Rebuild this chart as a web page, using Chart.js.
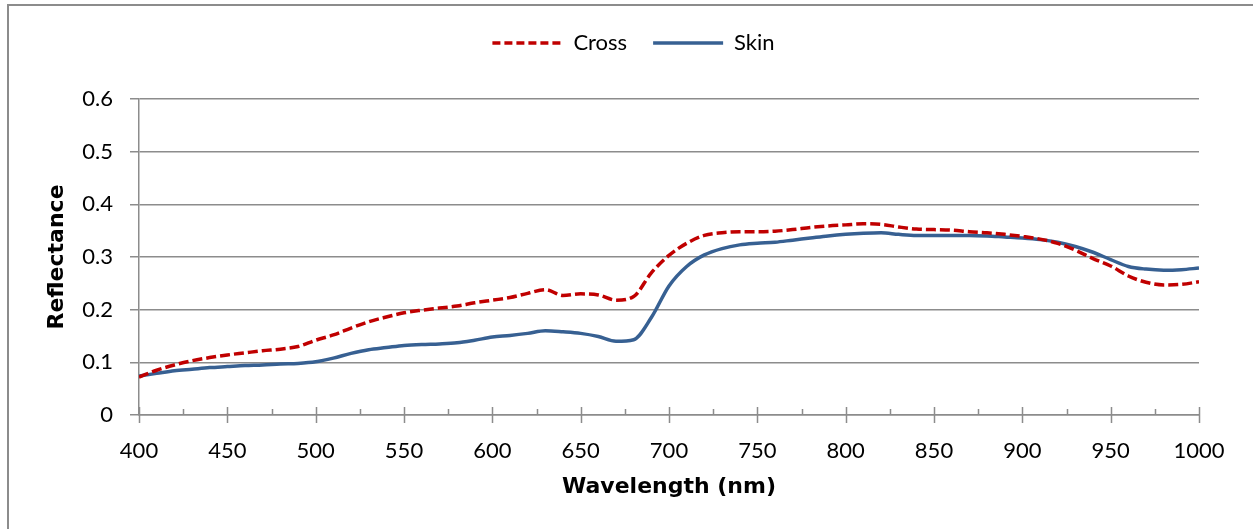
<!DOCTYPE html>
<html>
<head>
<meta charset="utf-8">
<script src="https://cdn.jsdelivr.net/npm/chart.js@4.4.1/dist/chart.umd.min.js"></script>
<style>
  body { margin: 0; background: #fff; overflow: hidden; }
  #wrap { position: relative; width: 1253px; height: 529px; }
  #frame { position: absolute; left: 7px; top: 4px; right: -10px; bottom: -10px;
           border-left: 2px solid #8c8c8c; border-top: 2px solid #8c8c8c; }
  canvas { position: absolute; left: 0; top: 0; }
</style>
</head>
<body>
<div id="wrap">
  <div id="frame"></div>
  <canvas id="chart" width="1253" height="529"></canvas>
</div>
<script>
// wavelengths (nm), every 10 nm
const wavelengths = [400, 410, 420, 430, 440, 450, 460, 470, 480, 490,
  500, 510, 520, 530, 540, 550, 560, 570, 580, 590,
  600, 610, 620, 630, 640, 650, 660, 670, 680, 690,
  700, 710, 720, 730, 740, 750, 760, 770, 780, 790,
  800, 810, 820, 830, 840, 850, 860, 870, 880, 890,
  900, 910, 920, 930, 940, 950, 960, 970, 980, 990, 1000];

const cross = [0.072, 0.085, 0.095, 0.103, 0.109, 0.114, 0.118, 0.122, 0.125, 0.130,
  0.142, 0.152, 0.165, 0.177, 0.186, 0.194, 0.199, 0.203, 0.207, 0.213,
  0.218, 0.223, 0.231, 0.238, 0.227, 0.230, 0.228, 0.218, 0.225, 0.270,
  0.303, 0.326, 0.341, 0.346, 0.348, 0.348, 0.349, 0.352, 0.356, 0.359,
  0.361, 0.363, 0.362, 0.357, 0.353, 0.352, 0.351, 0.348, 0.346, 0.343,
  0.339, 0.334, 0.326, 0.313, 0.297, 0.283, 0.264, 0.252, 0.247, 0.248, 0.253];

const skin = [0.074, 0.079, 0.084, 0.087, 0.090, 0.092, 0.094, 0.095, 0.097, 0.098,
  0.101, 0.108, 0.117, 0.124, 0.128, 0.132, 0.134, 0.135, 0.137, 0.142,
  0.148, 0.151, 0.155, 0.160, 0.158, 0.155, 0.149, 0.140, 0.143, 0.185,
  0.245, 0.282, 0.304, 0.316, 0.323, 0.326, 0.328, 0.332, 0.336, 0.340,
  0.343, 0.345, 0.346, 0.343, 0.341, 0.341, 0.341, 0.341, 0.340, 0.338,
  0.336, 0.333, 0.328, 0.320, 0.309, 0.295, 0.282, 0.277, 0.275, 0.276, 0.279];

const seriesNames = ["Cross", "Skin"];
const xRange = [400, 1000];
const yRange = [0, 0.6];

const axisGray = '#8c8c8c';
const tickFont = { family: 'Lato', size: 22 };
const titleFont = { family: 'DejaVu Sans', size: 22, weight: 'bold', lineHeight: 1.2 };

function pts(ys) {
  return wavelengths.map((w, i) => ({ x: w, y: ys[i] }));
}

// excel-style ticks on the x axis: majors cross, minors inside
const xTickMarks = {
  id: 'xTickMarks',
  afterDraw(chart) {
    const ctx = chart.ctx, xs = chart.scales.x;
    const y0 = chart.scales.y.getPixelForValue(0);
    ctx.save();
    ctx.strokeStyle = axisGray;
    ctx.lineWidth = 1.5;
    ctx.beginPath();
    for (let v = xRange[0]; v <= xRange[1]; v += 25) {
      const px = Math.round(xs.getPixelForValue(v)) + 0.5;
      if (v % 50 === 0) {
        ctx.moveTo(px, y0 - 8); ctx.lineTo(px, y0 + 8);
      } else {
        ctx.moveTo(px, y0 - 6); ctx.lineTo(px, y0);
      }
    }
    ctx.stroke();
    ctx.restore();
  }
};

// legend sizing / position tweaks
const legendTweak = {
  id: 'legendTweak',
  beforeInit(chart) {
    const fit = chart.legend.fit;
    chart.legend.fit = function () {
      fit.call(this);
      this.height = 93;
    };
  },
  afterLayout(chart) {
    chart.legend.left += 34;
    chart.legend.right += 34;
  }
};

let ctx = document.getElementById('chart').getContext('2d');
let chart = new Chart(ctx, {
  type: 'line',
  data: {
    datasets: [{
      label: seriesNames[0],
      data: pts(cross),
      borderColor: '#c00000',
      backgroundColor: '#c00000',
      borderWidth: 3.5,
      borderDash: [10, 4],
      pointRadius: 0,
      cubicInterpolationMode: 'monotone'
    }, {
      label: seriesNames[1],
      data: pts(skin),
      borderColor: '#376092',
      backgroundColor: '#376092',
      borderWidth: 3.5,
      pointRadius: 0,
      cubicInterpolationMode: 'monotone'
    }]
  },
  options: {
    responsive: false,
    animation: false,
    layout: { padding: { top: 6, right: 54, left: 0, bottom: 0 } },
    plugins: {
      tooltip: { enabled: false },
      legend: {
        position: 'top',
        labels: {
          usePointStyle: true,
          pointStyle: 'line',
          pointStyleWidth: 70,
          boxHeight: 3,
          padding: 26,
          color: '#000',
          font: tickFont,
          generateLabels(chart) {
            const items = Chart.defaults.plugins.legend.labels.generateLabels(chart);
            items.forEach((it, i) => {
              const ds = chart.data.datasets[i];
              it.lineDash = ds.borderDash ? [8, 4] : [];
              it.lineWidth = 3.5;
              it.strokeStyle = ds.borderColor;
            });
            return items;
          }
        }
      }
    },
    scales: {
      x: {
        type: 'linear',
        min: xRange[0],
        max: xRange[1],
        afterFit(s) { s.height = 114; },
        grid: { display: false },
        border: { display: true, color: axisGray, width: 1.5 },
        ticks: { stepSize: 50, padding: 15, color: '#000', font: tickFont, maxRotation: 0,
                 callback: (v) => String(v) },
        title: { display: true, text: 'Wavelength (nm)', color: '#000', font: titleFont,
                 padding: { top: 0, bottom: 29 } }
      },
      y: {
        min: yRange[0],
        max: yRange[1],
        afterFit(s) { s.width = 139; },
        grid: { color: axisGray, lineWidth: 1.5, tickLength: 9, drawTicks: true },
        border: { display: true, color: axisGray, width: 1.5 },
        ticks: { stepSize: 0.1, padding: 17, color: '#000', font: tickFont },
        title: { display: true, text: 'Reflectance', color: '#000', font: titleFont,
                 padding: { top: 44, bottom: 0 } }
      }
    }
  },
  plugins: [xTickMarks, legendTweak]
});
</script>
</body>
</html>
